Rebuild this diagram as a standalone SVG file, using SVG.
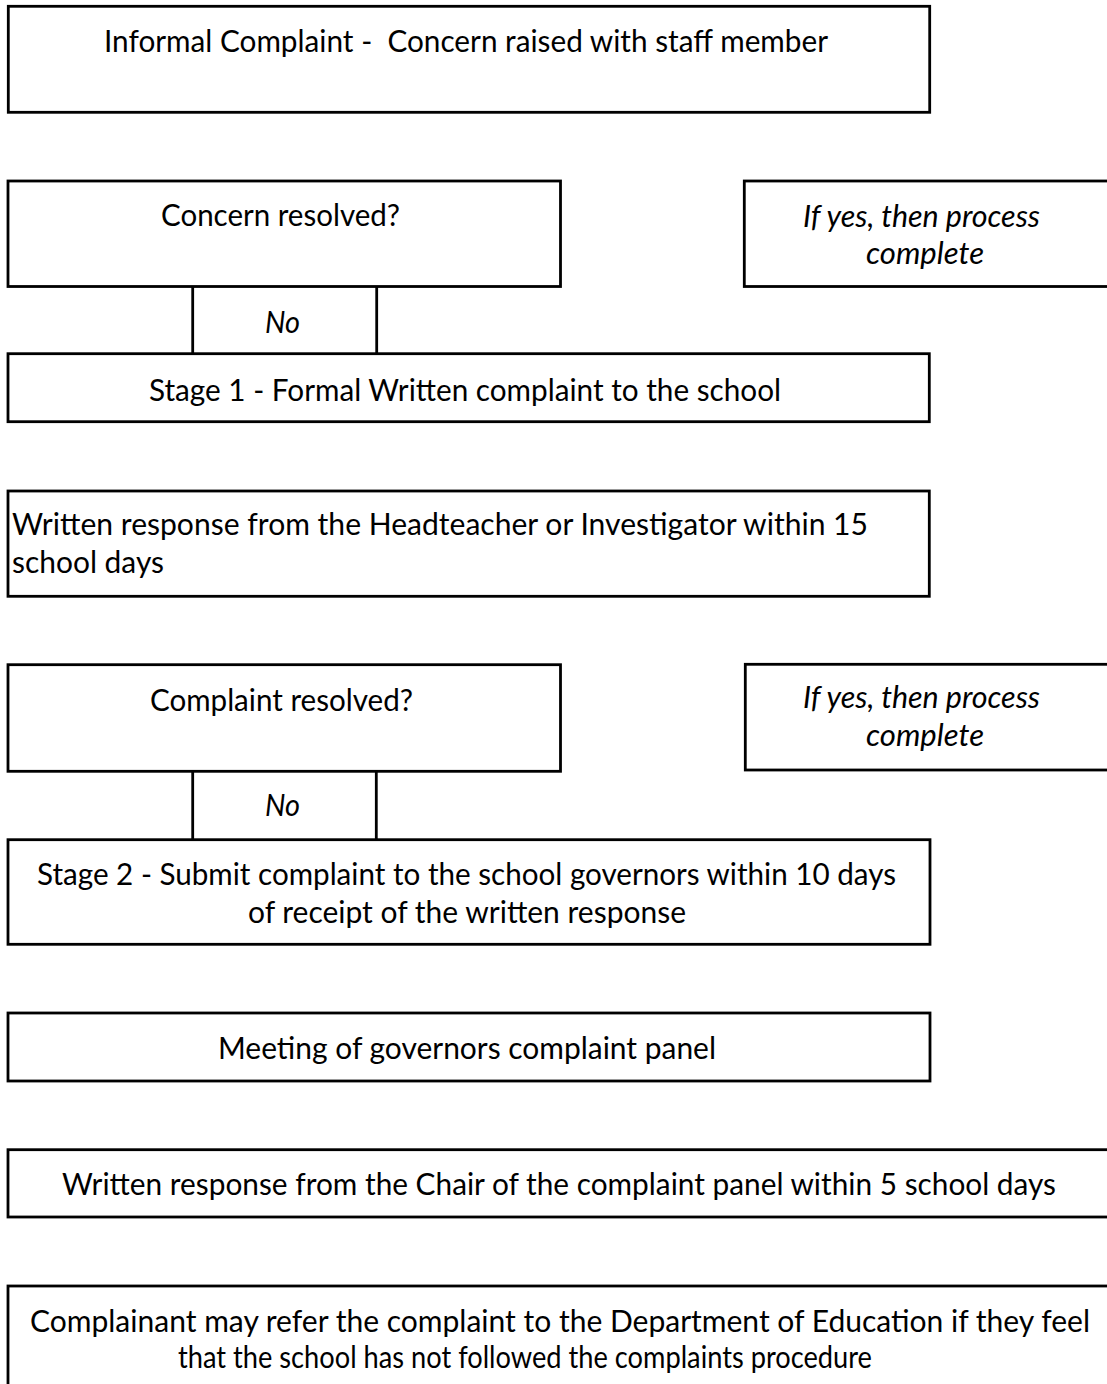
<svg xmlns="http://www.w3.org/2000/svg" width="1107" height="1384" viewBox="0 0 1107 1384">
<style>
.box{fill:#fff;stroke:#000;stroke-width:2.8}
.conn{stroke:#000;stroke-width:2.8;fill:none}
text{font-family:Lato,"Liberation Sans",sans-serif;font-size:30px;fill:#000}
.it{font-style:italic}
</style>
<rect width="1107" height="1384" fill="#fff"/>
<g id="informal">
<rect class="box" x="8.3" y="6.3" width="921.4" height="106"/>
<text x="104" y="52" textLength="724" lengthAdjust="spacingAndGlyphs">Informal Complaint -&#160; Concern raised with staff member</text>
</g>
<g id="concern-resolved">
<rect class="box" x="8" y="181" width="552.5" height="105.5"/>
<text x="161" y="226" textLength="239" lengthAdjust="spacingAndGlyphs">Concern resolved?</text>
</g>
<g id="yes-complete-1">
<rect class="box" x="744.3" y="181" width="380" height="105.5"/>
<text class="it" x="803" y="227" textLength="237" lengthAdjust="spacingAndGlyphs">If yes, then process</text>
<text class="it" x="866" y="264" textLength="118" lengthAdjust="spacingAndGlyphs">complete</text>
</g>
<g id="stage1">
<rect class="box" x="8" y="353.7" width="921.3" height="68"/>
<text x="149" y="401" textLength="632" lengthAdjust="spacingAndGlyphs">Stage 1 - Formal Written complaint to the school</text>
</g>
<g id="written-response">
<rect class="box" x="8" y="491" width="921.3" height="105.3"/>
<text x="12" y="535" textLength="856" lengthAdjust="spacingAndGlyphs">Written response from the Headteacher or Investigator within 15</text>
<text x="12" y="573" textLength="152" lengthAdjust="spacingAndGlyphs">school days</text>
</g>
<g id="complaint-resolved">
<rect class="box" x="8" y="664.7" width="552.5" height="106.6"/>
<text x="150" y="711" textLength="263" lengthAdjust="spacingAndGlyphs">Complaint resolved?</text>
</g>
<g id="yes-complete-2">
<rect class="box" x="745.3" y="664.3" width="380" height="105.7"/>
<text class="it" x="803" y="708" textLength="237" lengthAdjust="spacingAndGlyphs">If yes, then process</text>
<text class="it" x="866" y="746" textLength="118" lengthAdjust="spacingAndGlyphs">complete</text>
</g>
<g id="stage2">
<rect class="box" x="8" y="839.7" width="922" height="104.6"/>
<text x="37" y="885" textLength="859" lengthAdjust="spacingAndGlyphs">Stage 2 - Submit complaint to the school governors within 10 days</text>
<text x="248" y="922.5" textLength="438" lengthAdjust="spacingAndGlyphs">of receipt of the written response</text>
</g>
<g id="meeting">
<rect class="box" x="8" y="1013" width="922" height="68"/>
<text x="218" y="1059" textLength="498" lengthAdjust="spacingAndGlyphs">Meeting of governors complaint panel</text>
</g>
<g id="chair-response">
<rect class="box" x="8" y="1149.7" width="1120" height="67.3"/>
<text x="62" y="1195" textLength="994" lengthAdjust="spacingAndGlyphs">Written response from the Chair of the complaint panel within 5 school days</text>
</g>
<g id="refer-dfe">
<rect class="box" x="8" y="1286" width="1120" height="140"/>
<text x="30" y="1332" textLength="1060" lengthAdjust="spacingAndGlyphs">Complainant may refer the complaint to the Department of Education if they feel</text>
<text x="178" y="1368" textLength="694" lengthAdjust="spacingAndGlyphs">that the school has not followed the complaints procedure</text>
</g>
<g id="connectors">
<line class="conn" x1="192.7" y1="286.5" x2="192.7" y2="353.7"/>
<line class="conn" x1="376.7" y1="286.5" x2="376.7" y2="353.7"/>
<text class="it" x="265" y="332.5" textLength="35" lengthAdjust="spacingAndGlyphs">No</text>
<line class="conn" x1="192.7" y1="771.3" x2="192.7" y2="839.7"/>
<line class="conn" x1="376.3" y1="771.3" x2="376.3" y2="839.7"/>
<text class="it" x="265" y="815.7" textLength="35" lengthAdjust="spacingAndGlyphs">No</text>
</g>
</svg>
